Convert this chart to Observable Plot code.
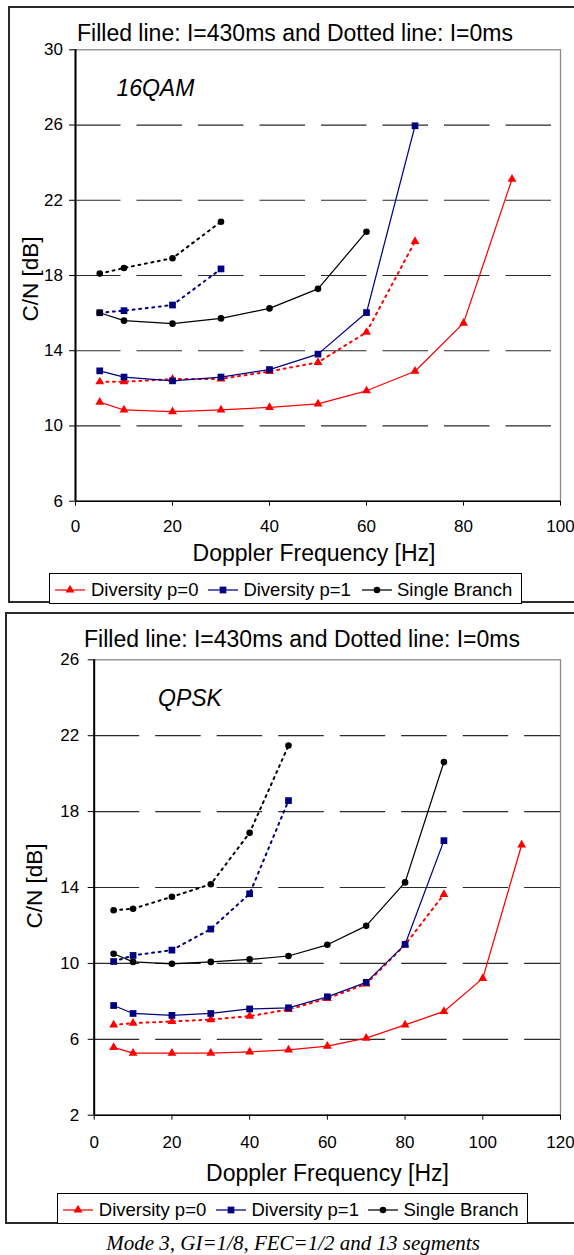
<!DOCTYPE html>
<html><head><meta charset="utf-8">
<script src="https://cdn.jsdelivr.net/npm/d3@7"></script>
<script src="https://cdn.jsdelivr.net/npm/@observablehq/plot@0.6"></script>
<style>
html,body{margin:0;padding:0;background:#fff}
#page{position:relative;width:574px;height:1255px;overflow:hidden;font-family:"Liberation Sans",Arial,sans-serif;color:#000}
.frame{position:absolute;border:2px solid #2a2a2a;box-sizing:border-box}
.t{position:absolute;white-space:nowrap;line-height:1;transform:translate(-50%,-50%)}
.tl{position:absolute;white-space:nowrap;line-height:1;transform:translate(0,-50%)}
.rot{position:absolute;white-space:nowrap;line-height:1;transform:translate(-50%,-50%) rotate(-90deg)}
.legend{position:absolute;border:1px solid #000;box-sizing:border-box;background:#fff}
.chart{position:absolute;left:0}
.sw{position:absolute}
</style></head>
<body><div id="page"></div>
<script>
// ---------- data ----------
const seriesNames = ["Diversity p=0", "Diversity p=1", "Single Branch"];
const seriesColors = ["#ff0000", "#000080", "#000000"];
const seriesSymbols = ["triangle", "square", "circle"];

// 16QAM panel
const qamTitle = "Filled line: I=430ms and Dotted line: I=0ms";
const qamLabel = "16QAM";
const qamFreq = [5, 10, 20, 30, 40, 50, 60, 70, 80, 90];
const qamP0Filled = [11.27, 10.85, 10.76, 10.85, 10.99, 11.17, 11.87, 12.91, 15.47, 23.12];
const qamP0Dotted = [12.35, 12.35, 12.49, 12.5, 12.9, 13.38, 14.98, 19.81];
const qamP1Filled = [12.93, 12.6, 12.4, 12.6, 13.0, 13.82, 16.03, 25.96];
const qamP1Dotted = [16.02, 16.13, 16.43, 18.35];
const qamSBFilled = [16.02, 15.6, 15.44, 15.72, 16.25, 17.29, 20.33];
const qamSBDotted = [18.1, 18.4, 18.92, 20.86];
const qamXTicks = [0, 20, 40, 60, 80, 100];
const qamYTicks = [6, 10, 14, 18, 22, 26, 30];

// QPSK panel
const qpskTitle = "Filled line: I=430ms and Dotted line: I=0ms";
const qpskLabel = "QPSK";
const qpskFreq = [5, 10, 20, 30, 40, 50, 60, 70, 80, 90, 100, 110];
const qpskP0Filled = [5.57, 5.27, 5.27, 5.27, 5.34, 5.44, 5.64, 6.06, 6.76, 7.47, 9.21, 16.24];
const qpskP0Dotted = [6.76, 6.85, 6.94, 7.04, 7.22, 7.57, 8.15, 8.92, 10.98, 13.64];
const qpskP1Filled = [7.78, 7.36, 7.26, 7.36, 7.6, 7.66, 8.24, 9.0, 11.0, 16.47];
const qpskP1Dotted = [10.1, 10.42, 10.7, 11.81, 13.67, 18.58];
const qpskSBFilled = [10.51, 10.08, 9.98, 10.08, 10.21, 10.39, 10.98, 11.98, 14.27, 20.61];
const qpskSBDotted = [12.8, 12.88, 13.51, 14.17, 16.88, 21.48];
const qpskXTicks = [0, 20, 40, 60, 80, 100, 120];
const qpskYTicks = [2, 6, 10, 14, 18, 22, 26];

const xLabel = "Doppler Frequency [Hz]";
const yLabel = "C/N [dB]";
const caption = "Mode 3, GI=1/8, FEC=1/2 and 13 segments";

// ---------- helpers ----------
function rows(freq, vals, idx, dotted) {
  return vals.map((v, i) => ({f: freq[i], v, idx, dotted}));
}
function symR(sym) { return sym === "triangle" ? 3.3 : sym === "square" ? 3.8 : 3.3; }

function makeChart(cfg) {
  const marks = [
    Plot.ruleY(cfg.yTicks.slice(1, -1), {stroke: "#2b2b2b", strokeWidth: 1.2, strokeDasharray: "45.5,16"}),
    Plot.frame({stroke: "#8a8a8a", strokeWidth: 1.3}),
    Plot.ruleX([cfg.xTicks[0]], {stroke: "#000", strokeWidth: 2}),
    Plot.ruleY([cfg.yTicks[0]], {stroke: "#000", strokeWidth: 1.5}),
    Plot.axisX(cfg.xTicks, {tickSize: 5, tickPadding: cfg.xPad, label: null, fontSize: 17, tickFormat: d => String(d)}),
    Plot.axisY(cfg.yTicks, {tickSize: 6, tickPadding: cfg.yPad, label: null, fontSize: 17, tickFormat: d => String(d)})
  ];
  for (const s of cfg.series) {
    const c = seriesColors[s.idx];
    marks.push(Plot.line(s.data, {
      x: "f", y: "v", stroke: c,
      strokeWidth: s.dotted ? 2 : 1.25,
      strokeDasharray: s.dotted ? "2,4.6" : null
    }));
  }
  for (const s of cfg.series) {
    const c = seriesColors[s.idx];
    const sym = seriesSymbols[s.idx];
    marks.push(Plot.dot(s.data, {x: "f", y: "v", symbol: () => sym, fill: c, stroke: "none", r: symR(sym)}));
  }
  return Plot.plot({
    width: 574, height: cfg.height,
    marginLeft: cfg.ml, marginRight: 14, marginTop: cfg.mt, marginBottom: cfg.mb,
    x: {domain: [cfg.xTicks[0], cfg.xTicks[cfg.xTicks.length - 1]]},
    y: {domain: [cfg.yTicks[0], cfg.yTicks[cfg.yTicks.length - 1]]},
    symbol: {type: "identity"},
    style: {background: "transparent", overflow: "visible", fontFamily: "'Liberation Sans', Arial, sans-serif", fontSize: "17px", color: "#000"},
    marks
  });
}

const page = document.getElementById("page");
function el(tag, cls, style, text) {
  const e = document.createElement(tag);
  if (cls) e.className = cls;
  Object.assign(e.style, style);
  if (text != null) e.textContent = text;
  page.appendChild(e);
  return e;
}

function legendSwatch(x, y, idx) {
  const ns = "http://www.w3.org/2000/svg";
  const svg = document.createElementNS(ns, "svg");
  svg.setAttribute("width", 32); svg.setAttribute("height", 14);
  svg.setAttribute("class", "sw");
  svg.style.left = x + "px"; svg.style.top = (y - 7) + "px";
  const line = document.createElementNS(ns, "line");
  line.setAttribute("x1", 0); line.setAttribute("x2", 30);
  line.setAttribute("y1", 7); line.setAttribute("y2", 7);
  line.setAttribute("stroke", seriesColors[idx]); line.setAttribute("stroke-width", 1.25);
  svg.appendChild(line);
  const sym = {triangle: d3.symbolTriangle, square: d3.symbolSquare, circle: d3.symbolCircle}[seriesSymbols[idx]];
  const r = symR(seriesSymbols[idx]);
  const p = document.createElementNS(ns, "path");
  p.setAttribute("d", d3.symbol(sym, r * r * Math.PI)());
  p.setAttribute("transform", "translate(15,7)");
  p.setAttribute("fill", seriesColors[idx]);
  svg.appendChild(p);
  page.appendChild(svg);
}

// ---------- frames ----------
el("div", "frame", {left: "8px", top: "6.3px", width: "600px", height: "596.7px"});
el("div", "frame", {left: "4.5px", top: "612.3px", width: "600px", height: "611.4px"});

// ---------- charts ----------
const qamChart = makeChart({
  xTicks: qamXTicks, yTicks: qamYTicks, height: 540, ml: 75, mt: 49.3, mb: 39.3, xPad: 14, yPad: 6.5,
  series: [
    {idx: 2, dotted: true, data: rows(qamFreq, qamSBDotted, 2, true)},
    {idx: 1, dotted: true, data: rows(qamFreq, qamP1Dotted, 1, true)},
    {idx: 0, dotted: true, data: rows(qamFreq, qamP0Dotted, 0, true)},
    {idx: 2, dotted: false, data: rows(qamFreq, qamSBFilled, 2, false)},
    {idx: 0, dotted: false, data: rows(qamFreq, qamP0Filled, 0, false)},
    {idx: 1, dotted: false, data: rows(qamFreq, qamP1Filled, 1, false)}
  ]
});
qamChart.classList.add("chart");
qamChart.style.top = "0px";
page.appendChild(qamChart);

const qpskChart = makeChart({
  xTicks: qpskXTicks, yTicks: qpskYTicks, height: 560, ml: 93.7, mt: 59.3, mb: 45.3, xPad: 16, yPad: 9,
  series: [
    {idx: 2, dotted: true, data: rows(qpskFreq, qpskSBDotted, 2, true)},
    {idx: 1, dotted: true, data: rows(qpskFreq, qpskP1Dotted, 1, true)},
    {idx: 0, dotted: true, data: rows(qpskFreq, qpskP0Dotted, 0, true)},
    {idx: 2, dotted: false, data: rows(qpskFreq, qpskSBFilled, 2, false)},
    {idx: 0, dotted: false, data: rows(qpskFreq, qpskP0Filled, 0, false)},
    {idx: 1, dotted: false, data: rows(qpskFreq, qpskP1Filled, 1, false)}
  ]
});
qpskChart.classList.add("chart");
qpskChart.style.top = "600px";
page.appendChild(qpskChart);

// ---------- texts ----------
el("div", "t", {left: "295px", top: "33px", fontSize: "23px"}, qamTitle);
el("div", "tl", {left: "116.4px", top: "88px", fontSize: "23px", fontStyle: "italic"}, qamLabel);
el("div", "rot", {left: "30.7px", top: "278.5px", fontSize: "22.5px"}, yLabel);
el("div", "t", {left: "314px", top: "552.7px", fontSize: "23px"}, xLabel);

el("div", "t", {left: "302px", top: "639.3px", fontSize: "23px"}, qpskTitle);
el("div", "tl", {left: "158px", top: "698px", fontSize: "23px", fontStyle: "italic"}, qpskLabel);
el("div", "rot", {left: "34.8px", top: "886px", fontSize: "22.5px"}, yLabel);
el("div", "t", {left: "327.5px", top: "1172.7px", fontSize: "23px"}, xLabel);

// ---------- legends ----------
function legend(box, items, cy) {
  el("div", "legend", box);
  items.forEach((it, i) => {
    legendSwatch(it.sx, cy, i);
    el("div", "tl", {left: it.tx + "px", top: cy + "px", fontSize: "18.5px"}, seriesNames[i]);
  });
}
legend({left: "48.5px", top: "572.5px", width: "473px", height: "31px"},
  [{sx: 55, tx: 91}, {sx: 208, tx: 243.4}, {sx: 361.7, tx: 397}], 590);
legend({left: "56.5px", top: "1193px", width: "471.5px", height: "31px"},
  [{sx: 63, tx: 98.8}, {sx: 216, tx: 251.5}, {sx: 368, tx: 403.4}], 1210);

el("div", "t", {left: "293px", top: "1243px", fontSize: "21px", fontStyle: "italic", fontFamily: "'Liberation Serif','Times New Roman',serif"}, caption);
</script>
</body></html>
